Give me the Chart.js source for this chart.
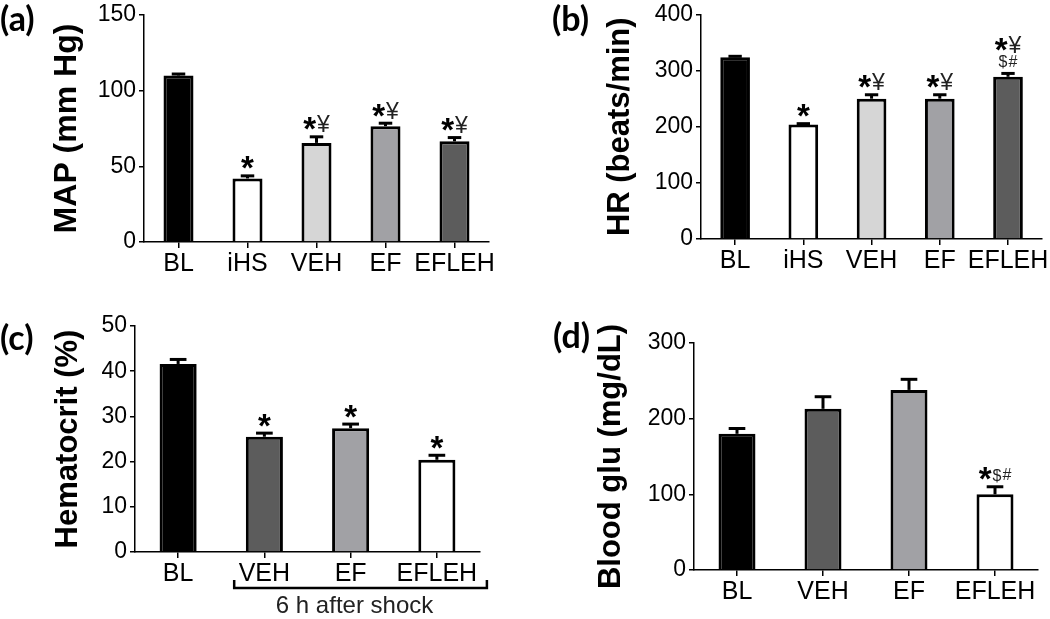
<!DOCTYPE html>
<html><head><meta charset="utf-8">
<script src="https://cdn.jsdelivr.net/npm/chart.js@4.4.1/dist/chart.umd.min.js"></script>
<style>
html,body{margin:0;padding:0;background:#fff;}
#wrap{position:relative;width:1050px;height:619px;overflow:hidden;background:#fff;}
canvas{position:absolute;}
.pl{position:absolute;font-family:Lato,'Liberation Sans',sans-serif;font-weight:bold;font-size:34px;color:#000;line-height:1;}
</style></head><body>
<div id="wrap">
<canvas id="cA" width="525" height="300" style="left:0;top:0"></canvas>
<canvas id="cB" width="525" height="300" style="left:525px;top:0"></canvas>
<canvas id="cC" width="525" height="319" style="left:0;top:300px"></canvas>
<canvas id="cD" width="525" height="319" style="left:525px;top:300px"></canvas>
<div class="pl" style="left:0;top:1px">(a)</div>
<div class="pl" style="left:552px;top:1px">(b)</div>
<div class="pl" style="left:0;top:320px">(c)</div>
<div class="pl" style="left:553px;top:318px">(d)</div>
</div>
<script>
// ---- data ----
const catsAB = ['BL', 'iHS', 'VEH', 'EF', 'EFLEH'];
const catsCD = ['BL', 'VEH', 'EF', 'EFLEH'];

const mapValues = [110, 42, 65.5, 76.5, 66.5];
const mapErrors = [1, 1.7, 4, 2, 2.5];
const mapSig = ['', '*', '*¥', '*¥', '*¥'];
const mapTicks = [0, 50, 100, 150];

const hrValues = [324, 204, 250, 250, 289];
const hrErrors = [1.5, 1.5, 7, 7, 6];
const hrSig = ['', '*', '*¥', '*¥', '*¥\n$#'];
const hrTicks = [0, 100, 200, 300, 400];

const hctValues = [41.6, 25.5, 27.4, 20.4];
const hctErrors = [1, 0.8, 0.9, 1];
const hctSig = ['', '*', '*', '*'];
const hctTicks = [0, 10, 20, 30, 40, 50];

const gluValues = [180, 213, 238, 100];
const gluErrors = [7, 16, 14, 10];
const gluSig = ['', '', '', '*$#'];
const gluTicks = [0, 100, 200, 300];

const colorsAB = ['#000000', '#ffffff', '#d6d6d6', '#a1a1a5', '#5c5c5c'];
const colorsCD = ['#000000', '#5c5c5c', '#a1a1a5', '#ffffff'];

// ---- rendering helpers ----
const FONT = "'Liberation Sans', Arial, sans-serif";
Chart.defaults.color = '#000';
Chart.defaults.font.family = FONT;

const SIG_STYLE = {
  '*': {size: 33, weight: 'bold', base: 0.26},
  '¥': {size: 23, weight: 'normal', base: 0.02},
  '$': {size: 16, weight: 'normal', base: -0.06},
  '#': {size: 16, weight: 'normal', base: -0.08}
};

const errSigPlugin = {
  id: 'errsig',
  afterDatasetsDraw(chart, args, opts) {
    const ctx = chart.ctx;
    const ys = chart.scales.y;
    const meta = chart.getDatasetMeta(0);
    ctx.save();
    meta.data.forEach((bar, i) => {
      const v = opts.values[i], e = opts.errors[i];
      const x = bar.x;
      const yTop = ys.getPixelForValue(v);
      const yErr = ys.getPixelForValue(v + e);
      ctx.strokeStyle = '#000';
      ctx.lineWidth = 3;
      ctx.beginPath(); ctx.moveTo(x, yTop); ctx.lineTo(x, yErr); ctx.stroke();
      const cw = bar.width * 0.45;
      ctx.beginPath(); ctx.moveTo(x - cw / 2, yErr); ctx.lineTo(x + cw / 2, yErr); ctx.stroke();
      const s = opts.sig[i];
      if (!s) return;
      const lines = s.split('\n').reverse();
      let B = yErr - 5;
      lines.forEach(line => {
        const chars = [...line];
        const widths = chars.map(c => {
          const st = SIG_STYLE[c];
          ctx.font = st.weight + ' ' + st.size + 'px ' + FONT;
          return ctx.measureText(c).width;
        });
        const gapc = 1;
        const total = widths.reduce((a, b) => a + b, 0) + gapc * (chars.length - 1);
        let cx = x - total / 2;
        ctx.textBaseline = 'alphabetic';
        ctx.textAlign = 'left';
        chars.forEach((c, k) => {
          const st = SIG_STYLE[c];
          ctx.font = st.weight + ' ' + st.size + 'px ' + FONT;
          ctx.fillStyle = c === '*' ? '#000' : '#222';
          ctx.fillText(c, cx, B + st.base * st.size);
          cx += widths[k] + gapc;
        });
        B -= 16;
      });
    });
    ctx.restore();
  }
};

const bracketPlugin = {
  id: 'bracket',
  afterDraw(chart, args, opts) {
    if (!opts || !opts.show) return;
    const ctx = chart.ctx;
    const xs = chart.scales.x;
    const step = xs.getPixelForValue(1) - xs.getPixelForValue(0);
    const x0 = xs.getPixelForValue(1) - 0.35 * step;
    const x1 = xs.getPixelForValue(3) + 0.58 * step;
    const y = chart.chartArea.bottom + 36;
    ctx.save();
    ctx.strokeStyle = '#000';
    ctx.lineWidth = 2.5;
    ctx.beginPath();
    ctx.moveTo(x0, y - 8); ctx.lineTo(x0, y); ctx.lineTo(x1, y); ctx.lineTo(x1, y - 8);
    ctx.stroke();
    ctx.fillStyle = '#222';
    ctx.font = 'normal 24px ' + FONT;
    ctx.textAlign = 'center';
    ctx.textBaseline = 'middle';
    ctx.fillText(opts.text, (x0 + x1) / 2 - 6, y + 18);
    ctx.restore();
  }
};

function makeChart(id, cfg) {
  const ticks = cfg.ticks;
  new Chart(document.getElementById(id), {
    type: 'bar',
    data: {
      labels: cfg.labels,
      datasets: [{
        data: cfg.values,
        backgroundColor: cfg.colors,
        borderColor: '#000',
        borderWidth: 3,
        categoryPercentage: 1,
        barPercentage: cfg.barPct
      }]
    },
    options: {
      responsive: false,
      animation: false,
      events: [],
      layout: {padding: cfg.pad},
      plugins: {
        legend: {display: false},
        tooltip: {enabled: false},
        errsig: {values: cfg.values, errors: cfg.errors, sig: cfg.sig},
        bracket: cfg.bracket || {show: false}
      },
      scales: {
        x: {
          grid: {display: true, offset: false, drawOnChartArea: false, drawTicks: true, tickLength: 6, color: '#000', lineWidth: 1.5},
          border: {display: true, color: '#000', width: 1.5},
          ticks: {font: {size: 25, lineHeight: 1.2}, color: '#000', padding: 1, maxRotation: 0, autoSkip: false},
          afterFit(s) { s.height = 40; }
        },
        y: {
          min: ticks[0], max: ticks[ticks.length - 1],
          afterBuildTicks(s) { s.ticks = ticks.map(v => ({value: v})); },
          grid: {display: true, drawOnChartArea: false, drawTicks: true, tickLength: 5, color: '#000', lineWidth: 1.5},
          border: {display: true, color: '#000', width: 1.5},
          ticks: {font: {size: 23, lineHeight: 1}, color: '#000', padding: 3},
          title: {display: true, text: cfg.title, font: {size: cfg.titleSize, weight: 'bold', lineHeight: 1.2}, color: '#000', padding: {top: cfg.titlePad, bottom: 0}},
          afterFit(s) { s.width = cfg.yWidth; }
        }
      }
    },
    plugins: [errSigPlugin, bracketPlugin]
  });
}

makeChart('cA', {labels: catsAB, values: mapValues, errors: mapErrors, sig: mapSig, ticks: mapTicks, colors: colorsAB,
  title: 'MAP (mm Hg)', titleSize: 32, barPct: 0.435, pad: {top: 15, right: 36, bottom: 18, left: 0}, yWidth: 144, titlePad: 47.8});
makeChart('cB', {labels: catsAB, values: hrValues, errors: hrErrors, sig: hrSig, ticks: hrTicks, colors: colorsAB,
  title: 'HR (beats/min)', titleSize: 31, barPct: 0.435, pad: {top: 12, right: 7, bottom: 21, left: 0}, yWidth: 176, titlePad: 76.4});
makeChart('cC', {labels: catsCD, values: hctValues, errors: hctErrors, sig: hctSig, ticks: hctTicks, colors: colorsCD,
  title: 'Hematocrit (%)', titleSize: 31, barPct: 0.43, pad: {top: 26, right: 45, bottom: 27, left: 0}, yWidth: 135, titlePad: 49.4,
  bracket: {show: true, text: '6 h after shock'}});
makeChart('cD', {labels: catsCD, values: gluValues, errors: gluErrors, sig: gluSig, ticks: gluTicks, colors: colorsCD,
  title: 'Blood glu (mg/dL)', titleSize: 31, barPct: 0.43, pad: {top: 43, right: 12, bottom: 9, left: 0}, yWidth: 169, titlePad: 67.4});
</script>
</body></html>
